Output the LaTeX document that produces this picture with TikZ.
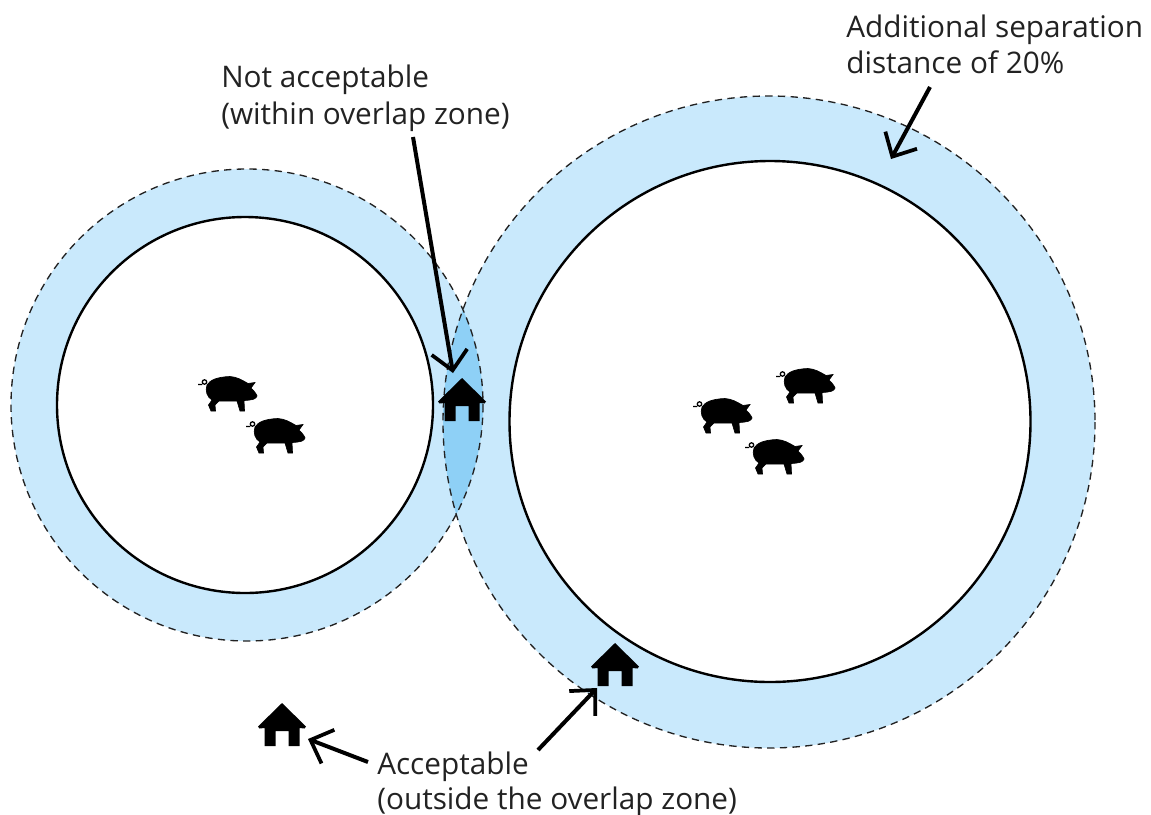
\documentclass[tikz,border=0pt]{standalone}
\usepackage{fontspec}
\setmainfont{Open Sans}
\usetikzlibrary{arrows.meta, positioning}
\definecolor{zone}{HTML}{C9E9FC}
\definecolor{overlap}{HTML}{8ED0F6}
\definecolor{ink}{HTML}{222222}
\tikzset{
  outerring/.style={draw=ink, dash pattern=on 5.5pt off 4pt, line width=1pt},
  innerring/.style={draw=black, fill=white, line width=1.8pt},
  callout/.style={-{Straight Barb[length=14pt,width=27pt,line width=2.8pt]}, line width=3pt},
  textline/.style={font=\fontsize{22.3}{26}\selectfont, text=ink, inner sep=0pt, anchor=base west},
  pics/pig/.style={code={
    \filldraw[line width=0.5pt] (-20,-8) .. controls (-17,-13) and (-10,-16) .. (3,-16.5)
      .. controls (10,-16) and (15,-13) .. (21,-9.5) -- (28,-10.5) -- (24,-5)
      .. controls (26,-3) and (29,0) .. (30,3) .. controls (29,6) and (26,7) .. (17,7.5)
      -- (17.5,18) -- (13,18) -- (10,8) -- (-8,8) -- (-12,12) -- (-11.5,18) -- (-16,18) -- (-18.5,12)
      -- (-15,7) .. controls (-20,4) and (-22,-2) .. (-20,-8) -- cycle;
    \draw[line width=0.95pt] (-22.5,-11) circle (2.2) (-25,-8.5) -- (-29,-8.5);
  }},
  pics/house/.style={code={
    \fill (0,-22) -- (24,1.5) -- (22.5,3.5) -- (17.5,3) -- (17.5,21) -- (6.5,21) -- (6.5,6) -- (-6.5,6) -- (-6.5,21)
      -- (-17.5,21) -- (-17.5,3) -- (-22.5,3.5) -- (-24,1.5) -- cycle;
  }},
}
\begin{document}
\begin{tikzpicture}[x=0.75pt, y=-0.75pt]
  \useasboundingbox (0,0) rectangle (1151,814);
  % Zones
  \fill[zone] (247,405) circle (236);
  \fill[zone] (769,422) circle (326);
  \begin{scope}
    \clip (247,405) circle (236);
    \fill[overlap] (769,422) circle (326);
  \end{scope}
  \draw[outerring] (247,405) circle (236);
  \draw[outerring] (769,422) circle (326);
  \draw[innerring] (245,405) circle (188);
  \draw[innerring] (770,421.5) circle (260.5);
  % Pigs
  \foreach \x/\y in {227/393, 275/435, 805/385, 722/415, 774/456}
    \pic at (\x,\y) {pig};
  % Houses
  \foreach \x/\y in {462/400, 615/665, 282/725}
    \pic at (\x,\y) {house};
  % Labels
  \node[textline] (notok) at (221,87) {Not acceptable};
  \node[textline] (notoksub) at (221,124) {(within overlap zone)};
  \node[textline] (extra) at (846,37) {Additional separation};
  \node[textline] (extrasub) at (846,73) {distance of 20\%};
  \node[textline] (okay) at (377,774) {Acceptable};
  \node[textline] (okaysub) at (377,809) {(outside the overlap zone)};
  % Arrows
  \coordinate (startA) at (413,137);
  \coordinate (tipA) at (453,373);
  \coordinate (startB) at (930,87);
  \coordinate (tipB) at (891,159);
  \coordinate (startC) at (368,762);
  \coordinate (tipC) at (308,739);
  \coordinate (startD) at (538,750);
  \coordinate (tipD) at (597,688);
  \draw[callout] (startA) -- (tipA);
  \draw[callout] (startB) -- (tipB);
  \draw[callout] (startC) -- (tipC);
  \draw[callout] (startD) -- (tipD);
\end{tikzpicture}
\end{document}
